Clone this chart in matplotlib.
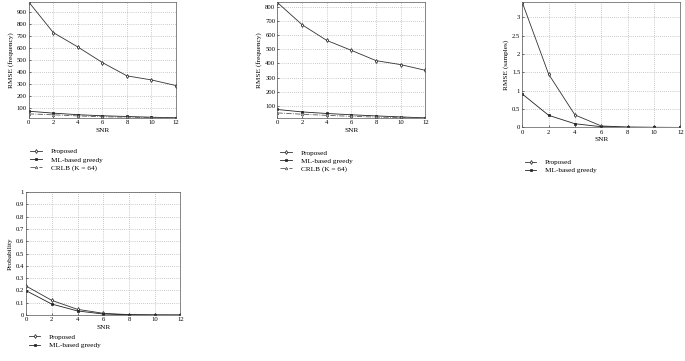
"""Four-panel RMSE / probability vs SNR comparison."""
import matplotlib
matplotlib.use("Agg")
import matplotlib.pyplot as plt

plt.rcParams["font.family"] = ["Liberation Serif", "DejaVu Serif"]

snr = [0, 2, 4, 6, 8, 10, 12]

# panel a: RMSE (frequency), K = 64
freq_a_proposed = [983, 728, 608, 478, 367, 333, 286]
freq_a_greedy = [72, 56, 43, 34, 28, 22, 17]
freq_a_crlb = [50, 42, 33, 26, 22, 19, 15]

# panel b: RMSE (frequency)
freq_b_proposed = [828, 672, 562, 492, 420, 392, 352]
freq_b_greedy = [77, 60, 49, 40, 32, 25, 18]
freq_b_crlb = [53, 44, 36, 29, 24, 21, 17]

# panel c: RMSE (samples)
samp_proposed = [3.40, 1.45, 0.34, 0.04, 0.01, 0.005, 0.0]
samp_greedy = [0.91, 0.33, 0.10, 0.02, 0.005, 0.0, 0.0]

# panel d: probability
prob_proposed = [0.236, 0.119, 0.046, 0.014, 0.003, 0.001, 0.0]
prob_greedy = [0.198, 0.089, 0.033, 0.008, 0.002, 0.0, 0.0]

lw = 0.6
sty_prop = dict(color="#333333", lw=lw, marker="d", ms=2.0, mfc="white", mew=0.6)
sty_greedy = dict(color="#222222", lw=lw, marker="s", ms=1.6, mew=0.5)
sty_crlb = dict(color="#555555", lw=lw, ls="-.", marker="^", ms=1.8, mfc="white", mew=0.5)

fig = plt.figure(figsize=(6.85, 3.61), dpi=100)


def style(ax, yticks, ylabel):
    ax.set_xlim(0, 12)
    ax.set_xticks(snr)
    ax.set_yticks(yticks)
    ax.tick_params(labelsize=4.8, direction="in", length=1.5, width=0.4, pad=1.5)
    ax.grid(True, ls=(0, (1, 2)), lw=0.5, color="#999999")
    for s in ax.spines.values():
        s.set_linewidth(0.5)
        s.set_color("#555555")
    ax.set_xlabel("SNR", fontsize=5.2, labelpad=2)
    ax.set_ylabel(ylabel, fontsize=5.2, labelpad=2)


def legend(ax, x, y):
    ax.legend(loc="upper left", bbox_to_anchor=(x, y), bbox_transform=fig.transFigure,
              frameon=False, fontsize=5.2, handlelength=1.6, handletextpad=1.2,
              labelspacing=0.3, borderaxespad=0)


ax1 = fig.add_axes([0.042, 0.673, 0.215, 0.322])
ax1.plot(snr, freq_a_proposed, label="Proposed", **sty_prop)
ax1.plot(snr, freq_a_greedy, label="ML-based greedy", **sty_greedy)
ax1.plot(snr, freq_a_crlb, label="CRLB (K = 64)", **sty_crlb)
ax1.set_ylim(15, 985)
style(ax1, range(100, 1000, 100), "RMSE (frequency)")
legend(ax1, 0.040, 0.597)

ax2 = fig.add_axes([0.405, 0.673, 0.216, 0.322])
ax2.plot(snr, freq_b_proposed, label="Proposed", **sty_prop)
ax2.plot(snr, freq_b_greedy, label="ML-based greedy", **sty_greedy)
ax2.plot(snr, freq_b_crlb, label="CRLB (K = 64)", **sty_crlb)
ax2.set_ylim(17, 833)
style(ax2, range(100, 900, 100), "RMSE (frequency)")
legend(ax2, 0.405, 0.594)

ax3 = fig.add_axes([0.7625, 0.647, 0.2305, 0.347])
ax3.plot(snr, samp_proposed, label="Proposed", **sty_prop)
ax3.plot(snr, samp_greedy, label="ML-based greedy", **sty_greedy)
ax3.set_ylim(0, 3.41)
style(ax3, [0, 0.5, 1, 1.5, 2, 2.5, 3], "RMSE (samples)")
ax3.set_yticklabels(["0", "0.5", "1", "1.5", "2", "2.5", "3"])
legend(ax3, 0.762, 0.567)

ax4 = fig.add_axes([0.038, 0.1274, 0.2255, 0.3407])
ax4.plot(snr, prob_proposed, label="Proposed", **sty_prop)
ax4.plot(snr, prob_greedy, label="ML-based greedy", **sty_greedy)
ax4.set_ylim(0, 1)
yt = [i / 10 for i in range(11)]
style(ax4, yt, "Probability")
ax4.set_yticklabels(["0"] + [f"{v:.1f}" for v in yt[1:-1]] + ["1"])
legend(ax4, 0.038, 0.083)

fig.savefig("out.png", dpi=100)
